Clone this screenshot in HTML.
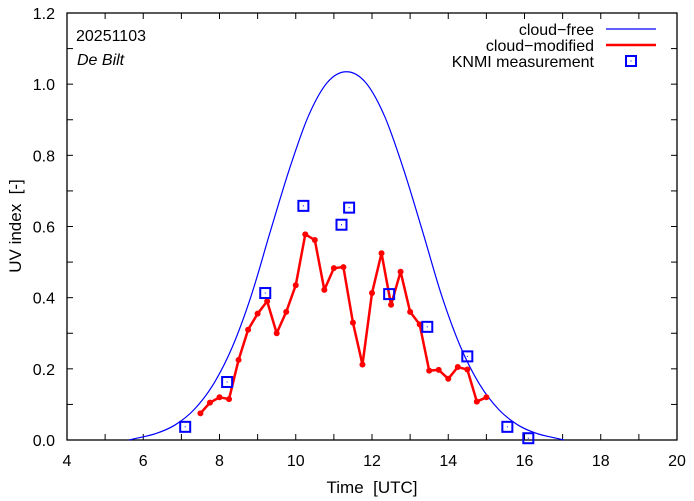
<!DOCTYPE html>
<html><head><meta charset="utf-8"><style>
body{margin:0;background:#fff}
svg{display:block;font-family:"Liberation Sans",sans-serif}
</style></head><body>
<svg id="chart" width="694" height="501" viewBox="0 0 694 501" xmlns="http://www.w3.org/2000/svg">
<g id="axes"></g>
<g id="series"></g>
<text x="76" y="41" font-size="16">20251103</text>
<text x="77" y="65" font-size="16" font-style="italic">De Bilt</text>
<text x="372" y="493" font-size="17" text-anchor="middle" xml:space="preserve">Time  [UTC]</text>
<text x="0" y="0" font-size="17" text-anchor="middle" transform="translate(21,226) rotate(-90)" xml:space="preserve">UV index  [-]</text>
<g>
<text x="594" y="35" font-size="16" text-anchor="end">cloud−free</text>
<line x1="606" y1="29" x2="656" y2="29" stroke="#0000ff" stroke-width="1.2"/>
<text x="594" y="51" font-size="16" text-anchor="end">cloud−modified</text>
<line x1="606" y1="45" x2="656" y2="45" stroke="#ff0000" stroke-width="2.5"/>
<text x="594" y="67" font-size="16" text-anchor="end">KNMI measurement</text>
<rect x="626" y="56" width="10" height="10" fill="none" stroke="#0000ff" stroke-width="2"/>
<rect x="630.5" y="60.5" width="1" height="1" fill="#0000ff"/>
</g>
</svg>
<script>
const xTicks=[4,6,8,10,12,14,16,18,20];
const yTicks=[0.0,0.2,0.4,0.6,0.8,1.0,1.2];
const clearTimes=[5.63,5.83,6.33,6.83,7.33,7.83,8.33,8.83,9.33,9.83,10.33,10.83,11.33,11.83,12.33,12.83,13.33,13.83,14.33,14.83,15.33,15.83,16.33,16.83,17.03];
const clearValues=[0,0.005,0.018,0.042,0.085,0.155,0.26,0.405,0.585,0.76,0.91,1.005,1.035,1.005,0.91,0.76,0.585,0.405,0.26,0.155,0.085,0.042,0.018,0.005,0];
const cloudTimes=[7.5,7.75,8.0,8.25,8.5,8.75,9.0,9.25,9.5,9.75,10.0,10.25,10.5,10.75,11.0,11.25,11.5,11.75,12.0,12.25,12.5,12.75,13.0,13.25,13.5,13.75,14.0,14.25,14.5,14.75,15.0];
const cloudValues=[0.075,0.105,0.12,0.115,0.225,0.31,0.355,0.39,0.30,0.36,0.435,0.578,0.562,0.422,0.483,0.486,0.33,0.212,0.413,0.525,0.38,0.473,0.36,0.325,0.195,0.197,0.172,0.205,0.198,0.108,0.12];
const knmiTimes=[7.1,8.2,9.2,10.2,11.2,11.4,12.45,13.45,14.5,15.55,16.1];
const knmiValues=[0.037,0.163,0.413,0.658,0.605,0.653,0.41,0.318,0.235,0.037,0.005];

const L=67,R=677,T=13,B=440,X0=4,X1=20,Y0=0,Y1=1.2;
function sx(t){return L+(t-X0)/(X1-X0)*(R-L);}
function sy(v){return B-(v-Y0)/(Y1-Y0)*(B-T);}
const NS="http://www.w3.org/2000/svg";
function mk(tag,attrs,parent){const e=document.createElementNS(NS,tag);for(const k in attrs)e.setAttribute(k,attrs[k]);parent.appendChild(e);return e;}
const axes=document.getElementById('axes'),series=document.getElementById('series');

for(let t=X0;t<=X1;t+=1){
  const a=mk('line',{x1:sx(t),x2:sx(t),y1:B,y2:B-6,stroke:'#000','stroke-width':1},axes);
  
  
  const b=mk('line',{x1:sx(t),x2:sx(t),y1:T,y2:T+6,stroke:'#000','stroke-width':1},axes);
  
  
}
for(let i=0;i<=12;i++){
  const v=i*0.1;
  const a=mk('line',{x1:L,x2:L+6,y1:sy(v),y2:sy(v),stroke:'#000','stroke-width':1},axes);
  
  
  const b=mk('line',{x1:R,x2:R-6,y1:sy(v),y2:sy(v),stroke:'#000','stroke-width':1},axes);
  
  
}
xTicks.forEach(t=>{
  const e=mk('text',{x:sx(t),y:466,'font-size':16,'text-anchor':'middle'},axes);
  e.textContent=String(t);
  
  
});
yTicks.forEach(v=>{
  const e=mk('text',{x:55,y:sy(v)+6,'font-size':16,'text-anchor':'end'},axes);
  e.textContent=v.toFixed(1);
  
  
});
const frame=mk('rect',{x:L,y:T,width:R-L,height:B-T,fill:'none',stroke:'#000','stroke-width':1.3},axes);



const pts=clearTimes.map((t,i)=>[sx(t),sy(clearValues[i])]);
let d='M'+pts[0][0]+','+pts[0][1];
for(let i=0;i<pts.length-1;i++){
  const p0=pts[Math.max(0,i-1)],p1=pts[i],p2=pts[i+1],p3=pts[Math.min(pts.length-1,i+2)];
  const c1=[p1[0]+(p2[0]-p0[0])/6,p1[1]+(p2[1]-p0[1])/6];
  const c2=[p2[0]-(p3[0]-p1[0])/6,p2[1]-(p3[1]-p1[1])/6];
  d+=' C'+c1[0]+','+c1[1]+' '+c2[0]+','+c2[1]+' '+p2[0]+','+p2[1];
}
const clear=mk('path',{d:d,fill:'none',stroke:'#0000ff','stroke-width':1.2},series);



const cl=mk('polyline',{points:cloudTimes.map((t,i)=>sx(t)+','+sy(cloudValues[i])).join(' '),fill:'none',stroke:'#ff0000','stroke-width':2.5,'stroke-linejoin':'round'},series);


cloudTimes.forEach((t,i)=>{
  const c=mk('circle',{cx:sx(t),cy:sy(cloudValues[i]),r:3,fill:'#ff0000'},series);
  
  
});

knmiTimes.forEach((t,i)=>{
  const x=sx(t),y=sy(knmiValues[i]);
  const r=mk('rect',{x:x-5,y:y-5,width:10,height:10,fill:'none',stroke:'#0000ff','stroke-width':2},series);
  
  
  const dd=mk('rect',{x:x-0.5,y:y-0.5,width:1,height:1,fill:'#0000ff'},series);
  
  
});
</script>
</body></html>
